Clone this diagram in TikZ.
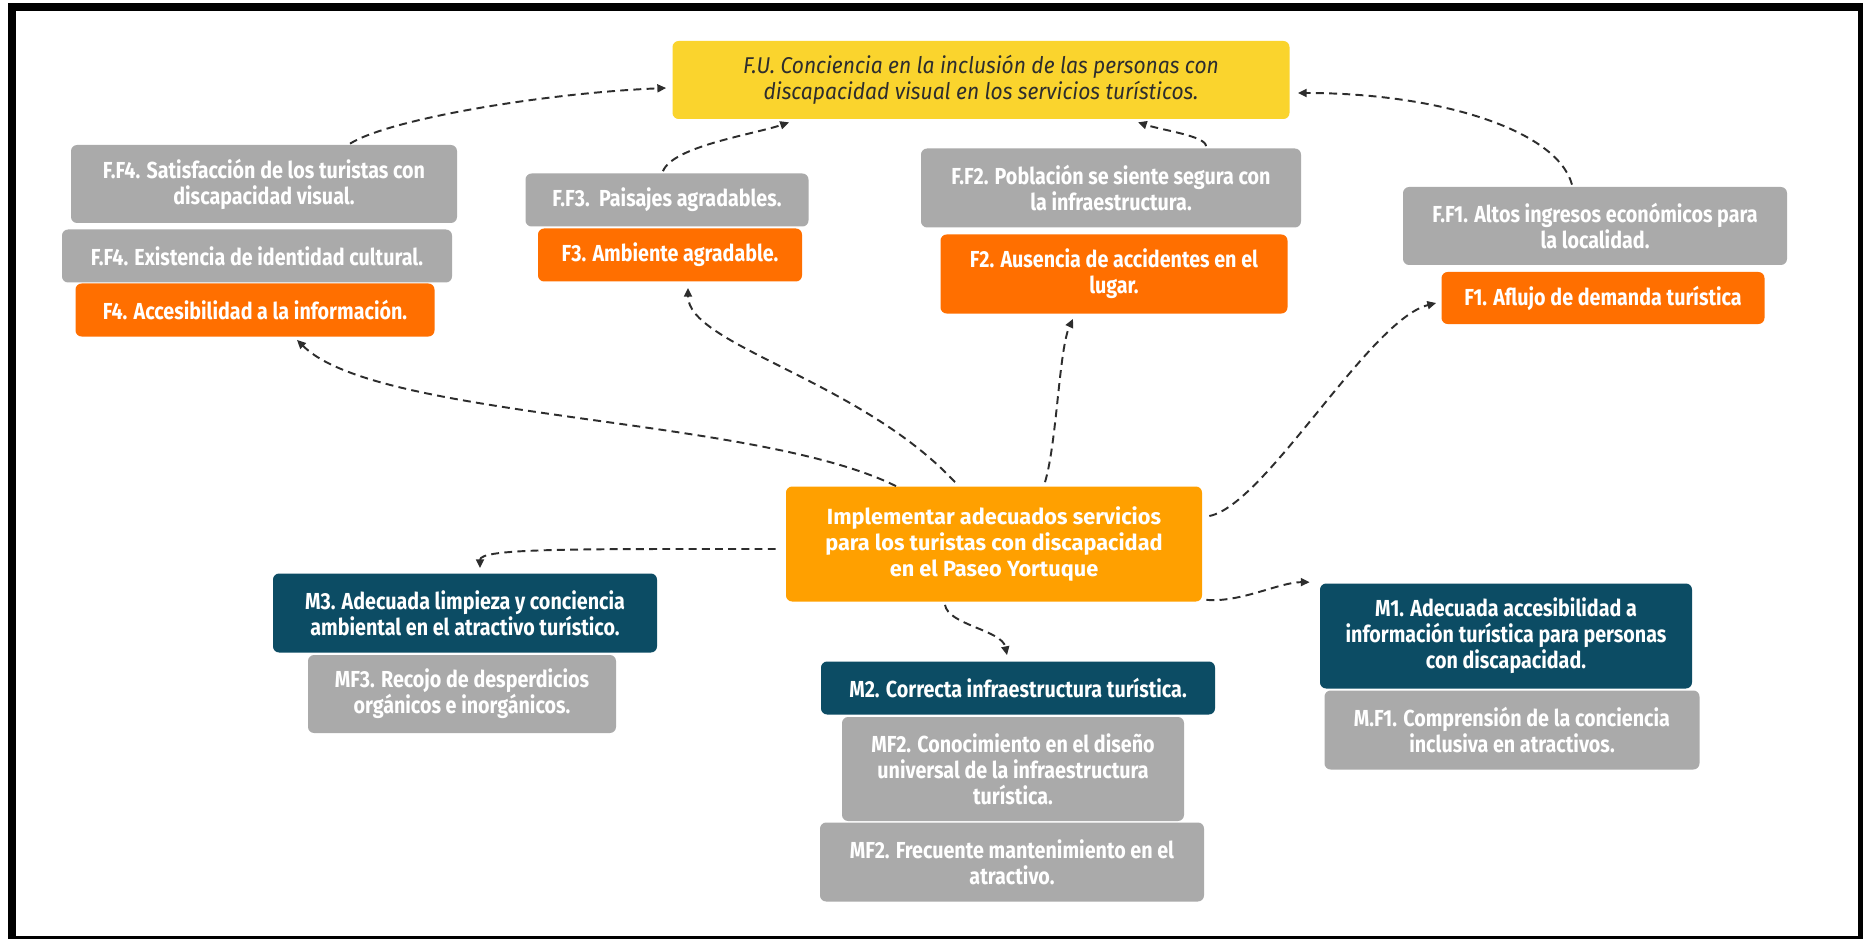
\documentclass[tikz,border=0pt]{standalone}
\usepackage{fontspec}
\setmainfont{Fira Sans}
\newfontfamily\cajafont{Fira Sans}[FakeStretch=0.85]
\newfontfamily\centrofont{Fira Sans}[FakeStretch=0.99]
\newfontfamily\finfont{Fira Sans}[FakeStretch=0.92]
\usetikzlibrary{calc,arrows.meta}

\definecolor{gris}{RGB}{170,170,170}
\definecolor{naranja}{RGB}{255,111,0}
\definecolor{ambar}{RGB}{255,160,0}
\definecolor{amarillo}{RGB}{250,212,45}
\definecolor{azul}{RGB}{12,76,100}
\definecolor{tinta}{RGB}{45,45,45}

\tikzset{
  caja/.style={rectangle, rounded corners=3.5pt, align=center, inner sep=0pt,
    text=white, font=\cajafont\bfseries\fontsize{13.2}{14.8}\selectfont},
  wh/.style 2 args={minimum width=#1*0.02cm, minimum height=#2*0.02cm},
  fgris/.style={caja, fill=gris},
  fnaranja/.style={caja, fill=naranja},
  fazul/.style={caja, fill=azul},
  flecha/.style={draw=tinta, line width=1.1pt, dash pattern=on 4.5pt off 3pt,
    -{Triangle[length=5pt,width=4.5pt]}}
}

\begin{document}
\begin{tikzpicture}[x=0.02cm, y=-0.02cm]
  \useasboundingbox (0,0) rectangle (1863,939);

  % Marco
  \fill[black] (8,3) rectangle (1863,939);
  \fill[white] (16,11) rectangle (1858,936);

  % Fin ultimo
  \node[caja, fill=amarillo, wh={617}{78}, text=tinta,
    font=\finfont\itshape\fontsize{13}{14.8}\selectfont] (fu) at (981,80)
    {F.U. Conciencia en la inclusión de las personas con\\discapacidad visual en los servicios turísticos.};

  % Fines y fines finales
  \node[fgris, wh={386}{78}] (ffSat) at (264,184) {F.F4. Satisfacción de los turistas con\\discapacidad visual.};
  \node[fgris, wh={390}{53}] (ffExi) at (257,256) {F.F4. Existencia de identidad cultural.};
  \node[fnaranja, wh={359}{53}] (fAcc) at (255,310) {F4. Accesibilidad a la información.};

  \node[fgris, wh={283}{53}] (ffPai) at (667,200) {F.F3.\ \ Paisajes agradables.};
  \node[fnaranja, wh={264}{53}] (fAmb) at (670,255) {F3. Ambiente agradable.};

  \node[fgris, wh={380}{79}] (ffPob) at (1111,188) {F.F2. Población se siente segura con\\la infraestructura.};
  \node[fnaranja, wh={347}{79}] (fAus) at (1114,274) {F2. Ausencia de accidentes en el\\lugar.};

  \node[fgris, wh={384}{78}] (ffAlt) at (1595,226) {F.F1. Altos ingresos económicos para\\la localidad.};
  \node[fnaranja, wh={323}{52}] (fAfl) at (1603,298) {F1. Aflujo de demanda turística};

  % Objetivo central
  \node[caja, fill=ambar, wh={416}{115},
    font=\centrofont\bfseries\fontsize{12.5}{14.8}\selectfont] (obj) at (994,544)
    {Implementar adecuados servicios\\para los turistas con discapacidad\\en el Paseo Yortuque};

  % Medios y medios fundamentales
  \node[fazul, wh={384}{79}] (mLim) at (465,613) {M3. Adecuada limpieza y conciencia\\ambiental en el atractivo turístico.};
  \node[fgris, wh={308}{78}] (mfRec) at (462,694) {MF3. Recojo de desperdicios\\orgánicos e inorgánicos.};

  \node[fazul, wh={394}{53}] (mInf) at (1018,688) {M2. Correcta infraestructura turística.};
  \node[fgris, wh={342}{104}] (mfCon) at (1013,769) {MF2. Conocimiento en el diseño\\universal de la infraestructura\\turística.};
  \node[fgris, wh={384}{79}] (mfFre) at (1012,862) {MF2. Frecuente mantenimiento en el\\atractivo.};

  \node[fazul, wh={372}{105}] (mAcc) at (1506,636) {M1. Adecuada accesibilidad a\\información turística para personas\\con discapacidad.};
  \node[fgris, wh={375}{79}] (mfCom) at (1512,730) {M.F1. Comprensión de la conciencia\\inclusiva en atractivos.};

  % Flechas hacia el fin ultimo
  \draw[flecha] ($(ffSat.north)+(86,-1)$) .. controls +(40,-25) and +(-120,5) .. ($(fu.west)+(-6,8)$);
  \draw[flecha] ($(ffPai.north)+(-4,-2)$) .. controls +(10,-25) and +(-35,12) .. ($(fu.south)+(-192,3)$);
  \draw[flecha] ($(ffPob.north)+(95,-2)$) .. controls +(0,-10) and +(25,8) .. ($(fu.south)+(157,3)$);
  \draw[flecha] ($(ffAlt.north)+(-23,-2)$) .. controls +(-15,-55) and +(140,0) .. ($(fu.east)+(8,13)$);

  % Flechas desde el objetivo central hacia los fines
  \draw[flecha] ($(obj.north)+(-98,0)$) .. controls +(-140,-70) and +(80,80) .. ($(fAcc.south)+(42,3)$);
  \draw[flecha] ($(obj.north)+(-39,-4)$) .. controls +(-95,-102) and +(0,57) .. ($(fAmb.south)+(18,6)$);
  \draw[flecha] ($(obj.north)+(51,-4)$) .. controls +(12,-40) and +(-14,30) .. ($(fAus.south)+(-41,5)$);
  \draw[flecha] ($(obj.east)+(7,-28)$) .. controls +(56,-11) and +(-67,17) .. ($(fAfl.west)+(-5,5)$);

  % Flechas hacia los medios
  \draw[flecha] ($(obj.west)+(-10,5)$) .. controls +(-200,0) and +(0,-20) .. ($(mLim.north)+(15,-5)$);
  \draw[flecha] ($(obj.south)+(-49,3)$) .. controls +(3,20) and +(-5,-25) .. ($(mInf.north)+(-11,-6)$);
  \draw[flecha] ($(obj.south east)+(4,-2)$) .. controls +(34,3) and +(-30,0) .. ($(mAcc.north west)+(-10,-1)$);
\end{tikzpicture}
\end{document}
